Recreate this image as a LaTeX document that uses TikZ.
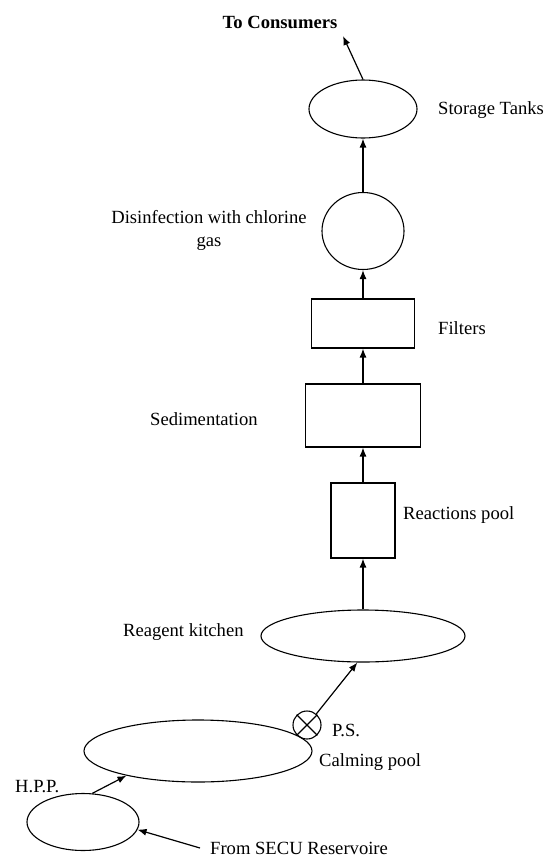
\documentclass[tikz,border=0pt]{standalone}
\usepackage{fontspec}
\setmainfont{Liberation Serif}
\usetikzlibrary{arrows.meta,shapes.geometric}

\tikzset{
  flow/.style={-{Latex[length=9pt,width=7pt]}, line width=1.2pt},
  tank/.style={draw, ellipse, line width=1.1pt, inner sep=0pt},
  basin/.style={draw, rectangle, line width=1.1pt, inner sep=0pt},
  lbl/.style={anchor=west, inner sep=0pt},
}

\begin{document}
\begin{tikzpicture}[x=1pt, y=1pt, font=\fontsize{18.6}{23}\selectfont]
\useasboundingbox (0,0) rectangle (548,-860);
% treatment line
\node[name=storage, tank, minimum width=108pt, minimum height=58pt] at (363,-109) {};
\node[name=disinfect, tank, minimum width=82pt, minimum height=77pt] at (363,-231) {};
\node[name=filters, basin, minimum width=103pt, minimum height=49pt] at (363,-323.5) {};
\node[name=sediment, basin, minimum width=115pt, minimum height=63pt] at (363,-415.5) {};
\node[name=reactions, basin, minimum width=64pt, minimum height=75pt] at (363,-520.5) {};
\node[name=reagent, tank, minimum width=204pt, minimum height=52pt] at (363,-636) {};
% intake
\node[name=calming, tank, minimum width=228pt, minimum height=62pt] at (198,-751) {};
\node[name=hpp, tank, minimum width=112pt, minimum height=57pt] at (83,-822) {};
\node[name=valve, circle, draw, line width=1.1pt, minimum size=28pt, inner sep=0pt] at (307,-725) {};
\draw[line width=1.1pt] (valve.45) -- (valve.225) (valve.135) -- (valve.-45);
% labels
\node[name=consumers, font=\fontsize{18.6}{23}\selectfont\bfseries] at (280,-22) {To Consumers};
\node[name=disinfectlbl, align=center] at (209,-230) {Disinfection with chlorine\\gas};
\foreach \name/\x/\y/\txt in {storagelbl/438/-110/Storage Tanks, filterslbl/438/-328/Filters,
  sedimentlbl/150/-419/Sedimentation, reactionslbl/403/-515/Reactions pool,
  reagentlbl/123/-632/Reagent kitchen, pslbl/332/-730/P.S., calminglbl/319/-762/Calming pool,
  hpplbl/15/-787/H.P.P., secu/210/-848/From SECU Reservoire}
  \node[name=\name, lbl] at (\x,\y) {\txt};
% flow
\foreach \from/\to in {reagent/reactions, reactions/sediment, sediment/filters, filters/disinfect, disinfect/storage}
  \draw[flow] (\from) -- (\to);
\coordinate (outlet) at (343,-36);
\draw[flow] (storage.north) -- (outlet);
\draw[flow] (valve.50) -- (reagent.258);
\draw[flow] (hpp.72) -- (calming.199);
\draw[flow] ([xshift=-10pt]secu.west) -- (hpp.-8);
\end{tikzpicture}
\end{document}
